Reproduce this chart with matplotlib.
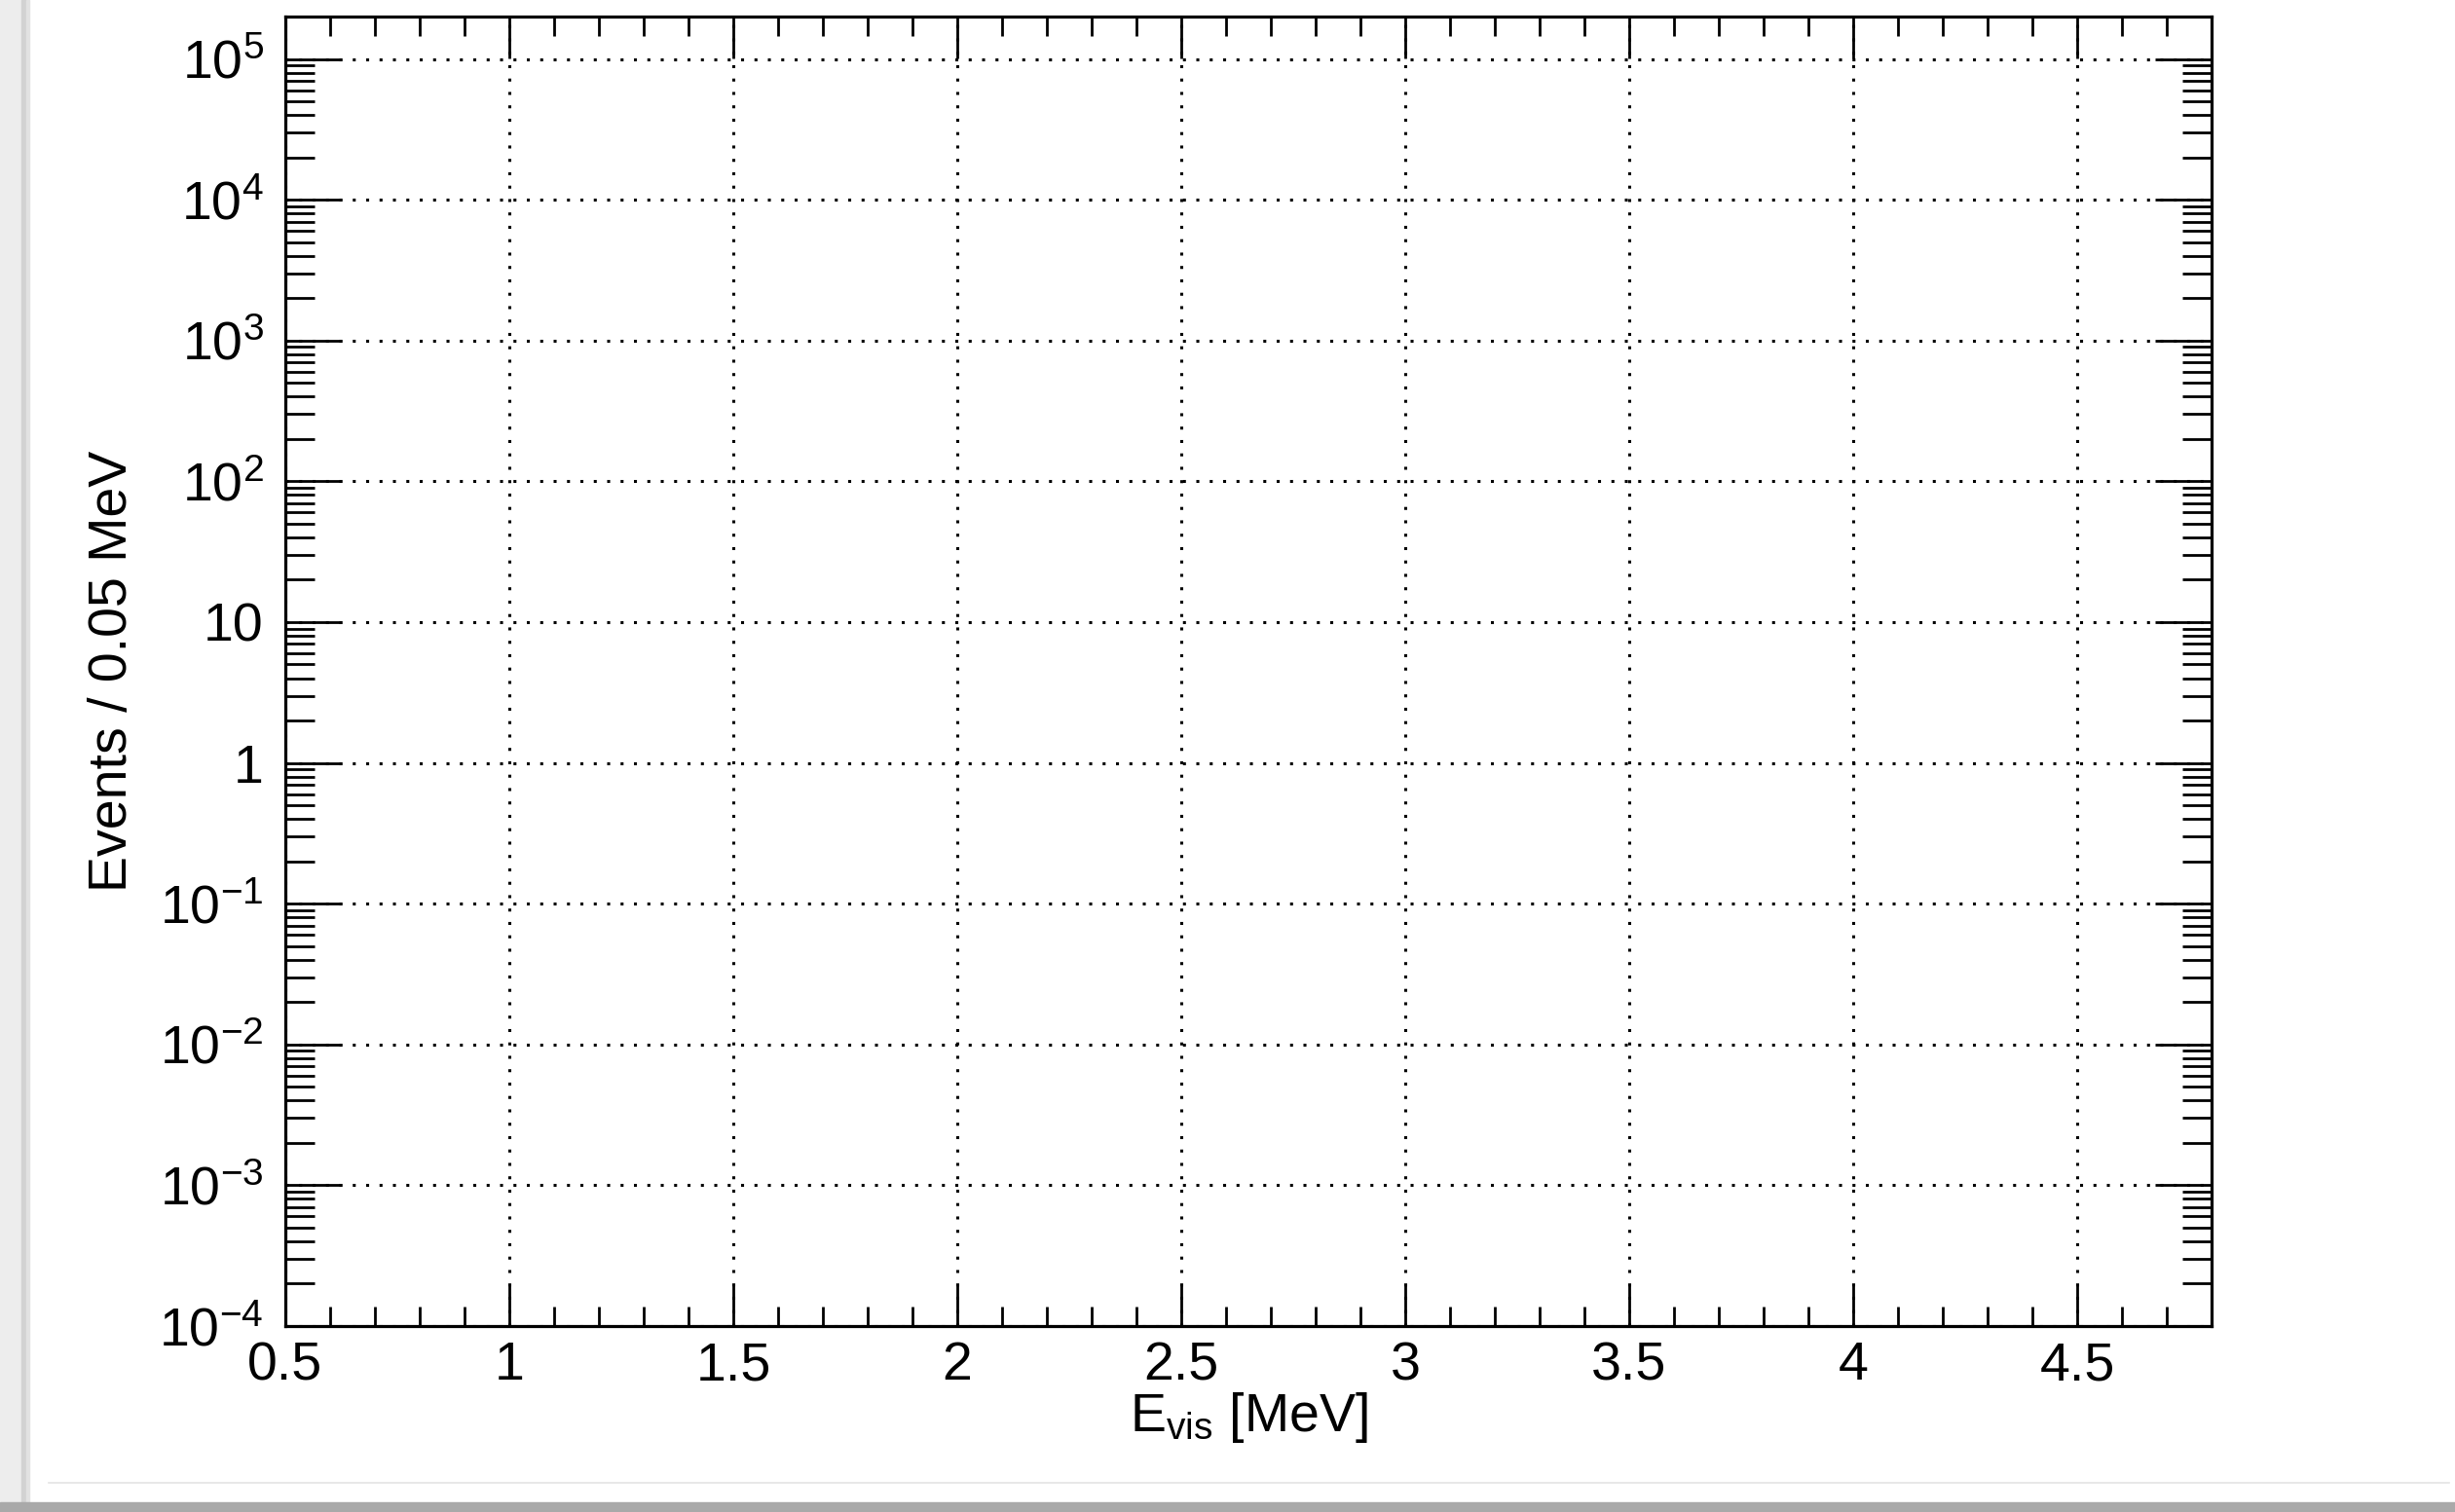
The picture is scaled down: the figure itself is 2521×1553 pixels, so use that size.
import matplotlib

matplotlib.use("Agg")
import matplotlib.pyplot as plt
from matplotlib.lines import Line2D
from matplotlib.patches import Rectangle
from matplotlib.ticker import FixedLocator, LogLocator, MultipleLocator, NullFormatter

# axis data (the plot itself is empty)
x_range = [0.5, 4.8]
y_range = [1e-4, 2e5]
x_ticks = [0.5, 1.0, 1.5, 2.0, 2.5, 3.0, 3.5, 4.0, 4.5]
x_tick_labels = ["0.5", "1", "1.5", "2", "2.5", "3", "3.5", "4", "4.5"]
y_ticks = [1e-4, 1e-3, 1e-2, 1e-1, 1, 10, 1e2, 1e3, 1e4, 1e5]
y_tick_labels = [
    r"$\mathregular{10^{-4}}$", r"$\mathregular{10^{-3}}$", r"$\mathregular{10^{-2}}$",
    r"$\mathregular{10^{-1}}$", "1", "10", r"$\mathregular{10^{2}}$",
    r"$\mathregular{10^{3}}$", r"$\mathregular{10^{4}}$", r"$\mathregular{10^{5}}$",
]
x_title = r"E$_{\mathregular{vis}}$ [MeV]"
y_title = "Events / 0.05 MeV"

W, H = 2521, 1553
plt.rcParams["font.family"] = ["Liberation Sans", "DejaVu Sans"]
plt.rcParams["mathtext.fontset"] = "custom"
plt.rcParams["mathtext.rm"] = "Liberation Sans"
plt.rcParams["mathtext.it"] = "Liberation Sans"

fig = plt.figure(figsize=(W / 100, H / 100), dpi=100, facecolor="white")

# slide-like frame around the canvas
fig.patches.append(Rectangle((0, 0), 22 / W, 1, transform=fig.transFigure, color="#ededed", zorder=0))
fig.patches.append(Rectangle((22 / W, 0), 5 / W, 1, transform=fig.transFigure, color="#d2d2d2", zorder=0))
fig.patches.append(Rectangle((27 / W, 0), 3 / W, 1, transform=fig.transFigure, color="#e2e2e2", zorder=0))
fig.patches.append(Rectangle((0, 0), 1, 10 / H, transform=fig.transFigure, color="#a9a9a9", zorder=0))
fig.lines.append(Line2D([50 / W, 2515 / W], [1 - 1523 / H] * 2, transform=fig.transFigure,
                        color="#e4e4e4", linewidth=1.2))

left, right, top, bottom = 293 / W, 2271 / W, 1 - 17 / H, 1 - 1362 / H
ax = fig.add_axes([left, bottom, right - left, top - bottom])
ax.set_yscale("log")
ax.set_xlim(*x_range)
ax.set_ylim(*y_range)

ax.xaxis.set_major_locator(FixedLocator(x_ticks))
ax.set_xticklabels(x_tick_labels)
ax.xaxis.set_minor_locator(MultipleLocator(0.1))
ax.yaxis.set_major_locator(FixedLocator(y_ticks))
ax.set_yticklabels(y_tick_labels)
ax.yaxis.set_minor_locator(LogLocator(base=10, subs=range(2, 10), numticks=30))
ax.yaxis.set_minor_formatter(NullFormatter())

for spine in ax.spines.values():
    spine.set_linewidth(2.3)

ax.tick_params(axis="both", which="both", direction="in", top=True, right=True,
               width=2.0, colors="black", labelsize=40)
ax.tick_params(axis="x", which="major", length=31, pad=11)
ax.tick_params(axis="x", which="minor", length=14.5)
ax.tick_params(axis="y", which="major", length=42, pad=16)
ax.tick_params(axis="y", which="minor", length=21.5)

ax.grid(True, which="major", color="black", linewidth=2.2, linestyle=(0, (1, 3.5)))

fig.text((left + right) / 2, 1 - 1470 / H, x_title, ha="center", va="baseline", fontsize=40)
fig.text(116 / W, (top + bottom) / 2, y_title, ha="center", va="center", rotation=90, fontsize=40)

fig.savefig("out.png", dpi=100, facecolor="white")
